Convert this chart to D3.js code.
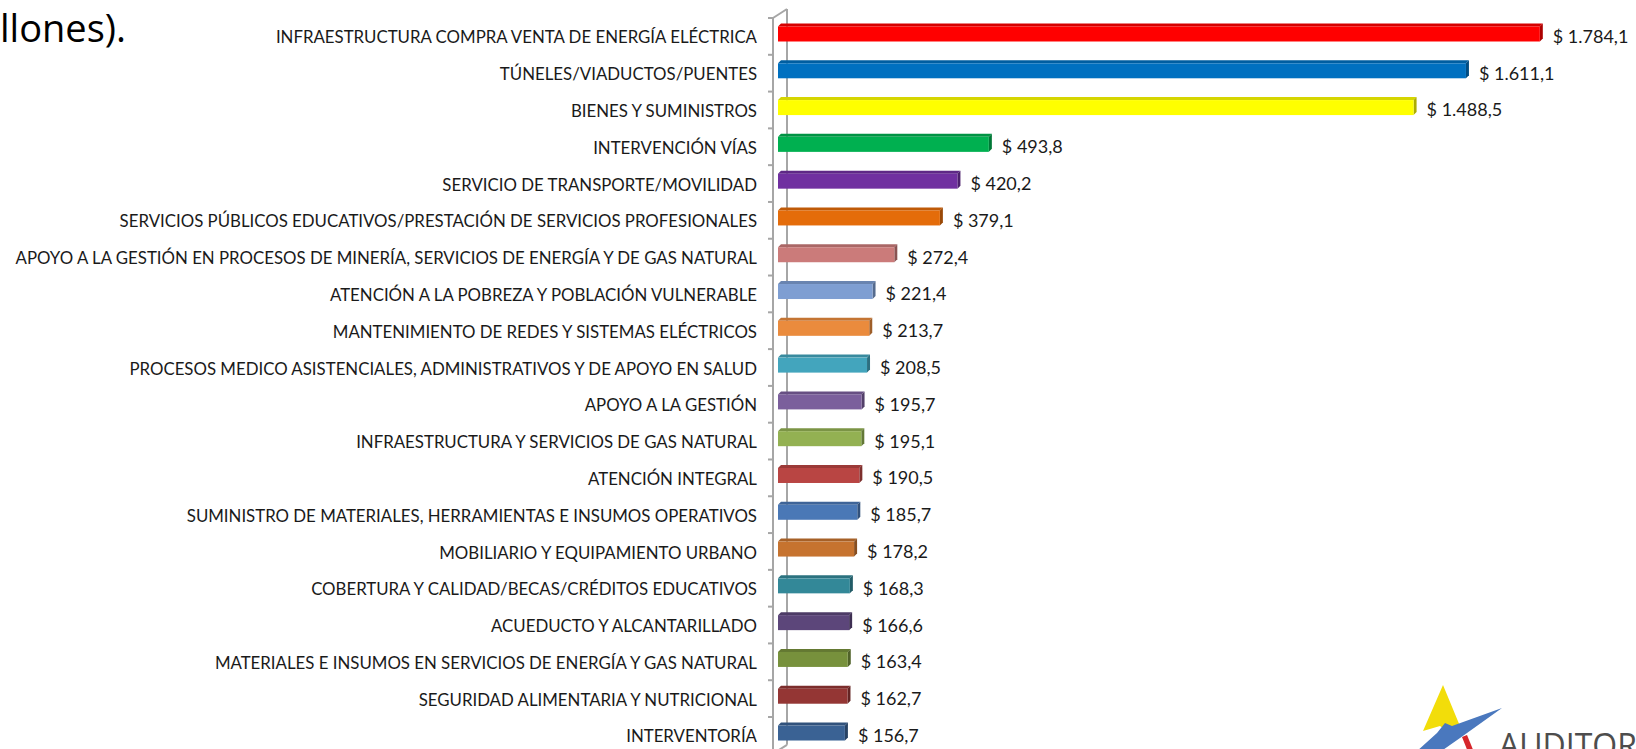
<!DOCTYPE html>
<html>
<head>
<meta charset="utf-8">
<script src="https://cdnjs.cloudflare.com/ajax/libs/d3/7.8.5/d3.min.js"></script>
<style type='text/css'>
body {
  margin: 0;
  background: #fff;
}
svg {
  display: block;
}
text.catlabel {
  font-family: Lato, "Open Sans", sans-serif;
  fill: #1a1a1a;
}
text.vallabel {
  font-family: Lato, "Open Sans", sans-serif;
  font-size: 18px;
  fill: #1a1a1a;
}
text.title {
  font-family: "Open Sans", "Noto Sans", sans-serif;
  font-size: 38px;
  fill: #000;
}
line.wall {
  stroke: #a6a6a6;
  stroke-width: 2;
}
</style>
</head>
<body>
<div id="plot1"></div>
<script type='text/javascript'>
var categories = [
  "INFRAESTRUCTURA COMPRA VENTA DE ENERGÍA ELÉCTRICA",
  "TÚNELES/VIADUCTOS/PUENTES",
  "BIENES Y SUMINISTROS",
  "INTERVENCIÓN VÍAS",
  "SERVICIO DE TRANSPORTE/MOVILIDAD",
  "SERVICIOS PÚBLICOS EDUCATIVOS/PRESTACIÓN DE SERVICIOS PROFESIONALES",
  "APOYO A LA GESTIÓN EN PROCESOS DE MINERÍA, SERVICIOS DE ENERGÍA Y DE GAS NATURAL",
  "ATENCIÓN A LA POBREZA Y POBLACIÓN VULNERABLE",
  "MANTENIMIENTO DE REDES Y SISTEMAS ELÉCTRICOS",
  "PROCESOS MEDICO ASISTENCIALES, ADMINISTRATIVOS Y DE APOYO EN SALUD",
  "APOYO A LA GESTIÓN",
  "INFRAESTRUCTURA Y SERVICIOS DE GAS NATURAL",
  "ATENCIÓN INTEGRAL",
  "SUMINISTRO DE MATERIALES, HERRAMIENTAS E INSUMOS OPERATIVOS",
  "MOBILIARIO Y EQUIPAMIENTO URBANO",
  "COBERTURA Y CALIDAD/BECAS/CRÉDITOS EDUCATIVOS",
  "ACUEDUCTO Y ALCANTARILLADO",
  "MATERIALES E INSUMOS EN SERVICIOS DE ENERGÍA Y GAS NATURAL",
  "SEGURIDAD ALIMENTARIA Y NUTRICIONAL",
  "INTERVENTORÍA"
];
var values = [1784.1, 1611.1, 1488.5, 493.8, 420.2, 379.1, 272.4, 221.4, 213.7, 208.5,
              195.7, 195.1, 190.5, 185.7, 178.2, 168.3, 166.6, 163.4, 162.7, 156.7];
var valueLabels = ["$ 1.784,1", "$ 1.611,1", "$ 1.488,5", "$ 493,8", "$ 420,2", "$ 379,1",
                   "$ 272,4", "$ 221,4", "$ 213,7", "$ 208,5", "$ 195,7", "$ 195,1",
                   "$ 190,5", "$ 185,7", "$ 178,2", "$ 168,3", "$ 166,6", "$ 163,4",
                   "$ 162,7", "$ 156,7"];
var colors = ["#ff0000", "#0070c0", "#ffff00", "#00b050", "#7030a0", "#e46c0a",
              "#cb7b7a", "#7e9ed2", "#ea8b3d", "#43a5bd", "#7b5f9c", "#93b152",
              "#b94543", "#4a78b6", "#c6732f", "#338898", "#5c467a", "#77913c",
              "#943634", "#3a6294"];
var titleText = "llones).";

var width = 1636,
    height = 749;

var svg = d3.select("div#plot1").append("svg")
    .attr("width", width)
    .attr("height", height);

var x = d3.scaleLinear().domain([0, 2000]).range([778, 1632]);
var y = d3.scaleBand().domain(categories).range([18, 18 + 20 * 36.79]).padding(0);

// 3d wall
var wallX = 773, wallDx = 14, wallDy = -9, floorY = y.range()[1];
svg.append("line").attr("class", "wall")
    .attr("x1", wallX).attr("y1", 18).attr("x2", wallX).attr("y2", height + 10);
svg.append("line").attr("class", "wall")
    .attr("x1", wallX + wallDx).attr("y1", 18 + wallDy).attr("x2", wallX + wallDx).attr("y2", floorY + wallDy);
svg.append("line").attr("class", "wall")
    .attr("x1", wallX).attr("y1", 18).attr("x2", wallX + wallDx).attr("y2", 18 + wallDy);
svg.append("line").attr("class", "wall")
    .attr("x1", wallX).attr("y1", floorY).attr("x2", wallX + wallDx).attr("y2", floorY + wallDy);
svg.selectAll("line.tick")
    .data(categories.concat(["_end"]))
  .enter().append("line")
    .attr("class", "wall")
    .attr("x1", wallX - 5).attr("x2", wallX)
    .attr("y1", function(d, i) { return 18 + i * y.step(); })
    .attr("y2", function(d, i) { return 18 + i * y.step(); });

// bars
var dx = 3, dy = -3, off = 8.5, bh = 15;
var bars = svg.selectAll("g.bar")
    .data(values)
  .enter().append("g")
    .attr("class", "bar");
bars.append("path")
    .attr("fill", function(d, i) { return d3.color(colors[i]).darker(0.5); })
    .attr("d", function(d, i) {
      var y0 = y(categories[i]) + off, x0 = x(0), x1 = x(d);
      return "M" + x0 + "," + y0 + "L" + (x0 + dx) + "," + (y0 + dy) + "L" + (x1 + dx) + "," + (y0 + dy) + "L" + x1 + "," + y0 + "Z";
    });
bars.append("path")
    .attr("fill", function(d, i) { return d3.color(colors[i]).darker(1.1); })
    .attr("d", function(d, i) {
      var y0 = y(categories[i]) + off, x1 = x(d);
      return "M" + x1 + "," + y0 + "L" + (x1 + dx) + "," + (y0 + dy) + "L" + (x1 + dx) + "," + (y0 + dy + bh) + "L" + x1 + "," + (y0 + bh) + "Z";
    });
bars.append("rect")
    .attr("x", x(0))
    .attr("y", function(d, i) { return y(categories[i]) + off; })
    .attr("width", function(d) { return x(d) - x(0); })
    .attr("height", bh)
    .attr("fill", function(d, i) { return colors[i]; });

// value labels
svg.selectAll("text.vallabel")
    .data(values)
  .enter().append("text")
    .attr("class", "vallabel")
    .attr("x", function(d) { return x(d) + dx + 10; })
    .attr("y", function(d, i) { return y(categories[i]) + y.bandwidth() / 2; })
    .attr("dy", "0.36em")
    .text(function(d, i) { return valueLabels[i]; });

// category labels, sized so the longest one fills the space left of the axis
var cat = svg.selectAll("text.catlabel")
    .data(categories)
  .enter().append("text")
    .attr("class", "catlabel")
    .attr("x", 757)
    .attr("y", function(d) { return y(d) + y.bandwidth() / 2 + 1; })
    .attr("dy", "0.36em")
    .attr("text-anchor", "end")
    .style("font-size", "15px")
    .text(function(d) { return d; });
var maxW = d3.max(cat.nodes(), function(n) { return n.getComputedTextLength(); });
cat.style("font-size", (15 * 742 / maxW) + "px");

// title fragment
svg.append("text")
    .attr("class", "title")
    .attr("x", 0)
    .attr("y", 42)
    .text(titleText);

// logo
var logo = svg.append("g").attr("class", "logo");
logo.append("path")
    .attr("fill", "#f2dd0a")
    .attr("d", "M1443,685L1423,731L1440,726L1447,731L1462,731Z");
logo.append("path")
    .attr("fill", "#4a78be")
    .attr("d", "M1502,708L1452,726L1445,723L1437,733L1416,752L1440,752L1460,738Z");
logo.append("path")
    .attr("fill", "#d6262b")
    .attr("d", "M1462,737L1467,735L1474,752L1468,752Z");
logo.append("text")
    .attr("x", 1499)
    .attr("y", 757)
    .style("font-family", "'Open Sans', sans-serif")
    .style("font-size", "32px")
    .style("fill", "#4d4d4d")
    .text("AUDITORÍA");
</script>
</body>
</html>
